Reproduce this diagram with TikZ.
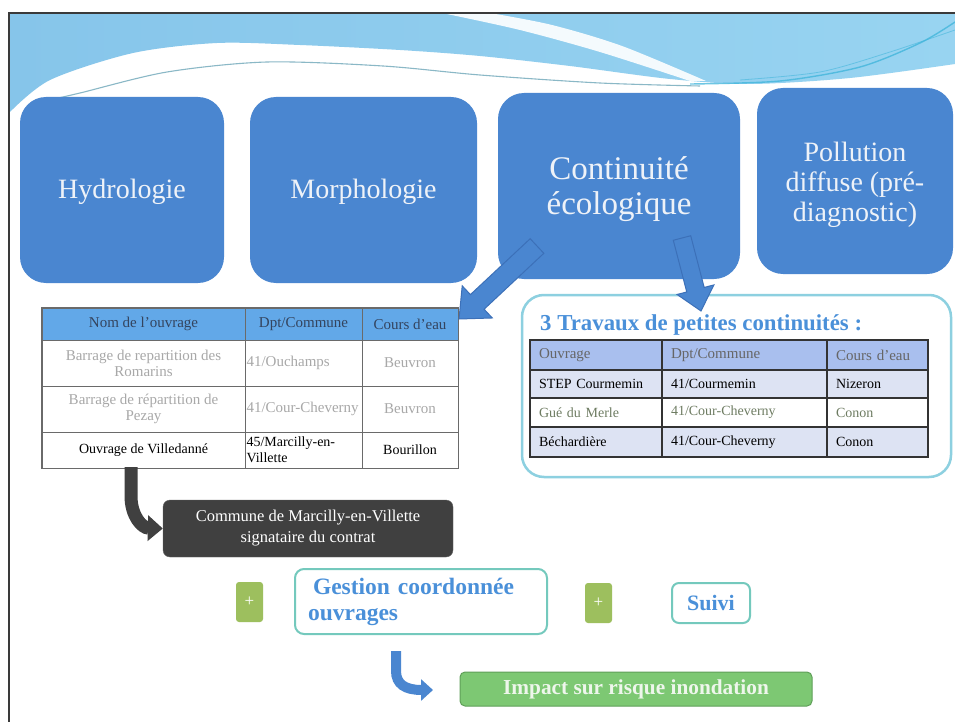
\documentclass[tikz,border=0pt]{standalone}
\usepackage{fontspec}
\setmainfont{Liberation Serif}
\usetikzlibrary{arrows.meta,calc}
\definecolor{boxblue}{HTML}{4A86D0}
\definecolor{boxedge}{HTML}{3C70B8}
\definecolor{boxtext}{HTML}{EEF2F8}
\definecolor{waveL}{HTML}{86C5EA}
\definecolor{waveR}{HTML}{98D4F1}
\definecolor{wavecyan}{HTML}{3DB4DA}
\definecolor{headblue}{HTML}{62A8E8}
\definecolor{headtext}{HTML}{34445E}
\definecolor{faded}{HTML}{A8A8A8}
\definecolor{tline}{HTML}{6A6A6A}
\definecolor{rhead}{HTML}{A9BFEE}
\definecolor{rrow}{HTML}{DDE3F3}
\definecolor{olivegray}{HTML}{6E7C62}
\definecolor{rboxline}{HTML}{8DD0E0}
\definecolor{titleblue}{HTML}{4A90D9}
\definecolor{darkbox}{HTML}{404040}
\definecolor{tealline}{HTML}{74C9BD}
\definecolor{plusgreen}{HTML}{9DBF5E}
\definecolor{impactfill}{HTML}{7DC873}
\definecolor{impactline}{HTML}{5F9F58}
\definecolor{impacttext}{HTML}{EEF6EC}
\definecolor{framecol}{HTML}{3A3A3A}
% block arrow: #1 start, #2 end, #3 shaft half width, #4 head half width, #5 head length
\newcommand{\blkarrow}[5]{%
  \coordinate (tmpC) at ($(#2)!#5!(#1)$);
  \filldraw[fill=boxblue, draw=boxedge, line width=1pt, line join=miter]
    ($(#1)!#3!90:(#2)$) -- ($(tmpC)!#3!90:(#2)$) -- ($(tmpC)!#4!90:(#2)$) -- (#2)
    -- ($(tmpC)!#4!-90:(#2)$) -- ($(tmpC)!#3!-90:(#2)$) -- ($(#1)!#3!-90:(#2)$) -- cycle;}
\begin{document}
\begin{tikzpicture}[x=1pt,y=-1pt,
  bigbox/.style={rectangle, rounded corners=26pt, fill=boxblue, inner sep=0pt},
  bigtext/.style={text=boxtext, align=center, inner sep=0pt, font=\fontsize{28}{30}\selectfont},
  cell/.style={rectangle, draw=tline, line width=0.8pt, inner sep=0pt, align=center},
  lhead/.style={cell, fill=headblue, text=headtext, font=\fontsize{15}{17}\selectfont},
  lrow/.style={cell, fill=white, font=\fontsize{14}{16}\selectfont},
  lfade/.style={lrow, text=faded, font=\fontsize{15}{16}\selectfont},
  rcell/.style={rectangle, draw=black!80, line width=1.2pt, inner sep=0pt, align=left, font=\fontsize{14}{16}\selectfont},
  plusbox/.style={rectangle, rounded corners=3pt, fill=plusgreen, text=white, minimum width=27pt, minimum height=40pt, inner sep=0pt, font=\fontsize{17}{17}\selectfont},
  tealbox/.style={rectangle, rounded corners=9pt, draw=tealline, line width=2pt, fill=white, inner sep=0pt, text=titleblue, font=\bfseries\fontsize{22}{26}\selectfont}
]
\useasboundingbox (0,0) rectangle (955,722);
\fill[white] (0,0) rectangle (955,722);

% ---- top wave ----
\shade[left color=waveL, right color=waveR]
  plot[smooth] coordinates {(9,113) (50,80) (133,53) (217,43) (300,45) (400,50) (480,56) (570,66) (670,79) (750,84) (850,78) (955,64)}
  -- (955,13) -- (9,13) -- cycle;
\fill[white, opacity=0.9]
  plot[smooth] coordinates {(442,13) (520,30) (600,52) (690,81)}
  -- plot[smooth] coordinates {(706,81) (622,46) (552,25) (490,13)} -- cycle;
\draw[wavecyan, line width=1.4pt, opacity=0.75]
  plot[smooth] coordinates {(690,84) (780,81) (860,67) (920,43) (955,22)};
\draw[wavecyan, line width=0.8pt, opacity=0.55]
  plot[smooth] coordinates {(740,80) (820,72) (890,52) (955,30)};
\draw[wavecyan!70!black, line width=1.1pt, opacity=0.55]
  plot[smooth] coordinates {(45,101) (80,93) (167,72) (267,62) (383,66) (480,75) (600,83) (700,86)};

% ---- frame ----
\draw[framecol, line width=1.5pt] (9,722) -- (9,13) -- (955,13);

% ---- top boxes ----
\node[bigbox, minimum width=204pt, minimum height=186pt] (hyd) at (122,190) {};
\node[bigtext] (hydt) at (122,192) {Hydrologie};
\node[bigbox, minimum width=227pt, minimum height=186pt] (mor) at (363.5,190) {};
\node[bigtext] (mort) at (363.5,192) {Morphologie};
\node[bigbox, minimum width=242pt, minimum height=186pt] (con) at (619,186) {};
\node[bigtext, font=\fontsize{33}{35}\selectfont] (cont) at (619,189) {Continuité\\écologique};
\node[bigbox, minimum width=196pt, minimum height=186pt] (pol) at (855,181) {};
\node[bigtext] (polt) at (855,185) {Pollution\\diffuse (pré-\\diagnostic)};

% ---- left table ----
\node[lhead, minimum width=203pt, minimum height=32pt] (lh1) at (143.5,324) {Nom de l'ouvrage};
\node[lhead, minimum width=117pt, minimum height=32pt] (lh2) at (303.5,324) {Dpt/Commune};
\node[lhead, minimum width=96pt, minimum height=32pt] (lh3) at (410,324) {Cours d'eau};
\node[lfade, minimum width=203pt, minimum height=46pt] (la1) at (143.5,363) {Barrage de repartition des\\Romarins};
\node[lfade, minimum width=117pt, minimum height=46pt, text width=114pt, align=left] (la2) at (303.5,363) {41/Ouchamps};
\node[lfade, minimum width=96pt, minimum height=46pt] (la3) at (410,363) {Beuvron};
\node[lfade, minimum width=203pt, minimum height=46pt] (lb1) at (143.5,409) {Barrage de répartition de\\Pezay};
\node[lfade, minimum width=117pt, minimum height=46pt, text width=114pt, align=left] (lb2) at (303.5,409) {41/Cour-Cheverny};
\node[lfade, minimum width=96pt, minimum height=46pt] (lb3) at (410,409) {Beuvron};
\node[lrow, minimum width=203pt, minimum height=36pt] (lc1) at (143.5,450) {Ouvrage de Villedanné};
\node[lrow, minimum width=117pt, minimum height=36pt, text width=114pt, align=left] (lc2) at (303.5,450) {45/Marcilly-en-\\Villette};
\node[lrow, minimum width=96pt, minimum height=36pt] (lc3) at (410,450) {Bourillon};
\draw[tline, line width=1.2pt] (lh1.north west) rectangle (lc3.south east);

% ---- right box ----
\node[rectangle, rounded corners=22pt, draw=rboxline, line width=2.5pt, fill=white, minimum width=429pt, minimum height=182pt] (rbox) at (736.5,386) {};
\node[anchor=west, inner sep=0pt, text=titleblue, font=\bfseries\fontsize{22.8}{24}\selectfont] (rtitle) at (540,325) {3 Travaux de petites continuités :};
\node[rcell, fill=rhead, text=black!60, font=\fontsize{15}{17}\selectfont, minimum width=132pt, minimum height=30pt, text width=114pt] (rh1) at (596,355) {Ouvrage};
\node[rcell, fill=rhead, text=black!60, font=\fontsize{15}{17}\selectfont, minimum width=165pt, minimum height=30pt, text width=147pt] (rh2) at (744.5,355) {Dpt/Commune};
\node[rcell, fill=rhead, text=black!60, font=\fontsize{15}{17}\selectfont, minimum width=101pt, minimum height=30pt, text width=83pt] (rh3) at (877.5,355) {Cours d'eau};
\node[rcell, fill=rrow, minimum width=132pt, minimum height=28pt, text width=114pt] (ra1) at (596,384) {STEP Courmemin};
\node[rcell, fill=rrow, minimum width=165pt, minimum height=28pt, text width=147pt] (ra2) at (744.5,384) {41/Courmemin};
\node[rcell, fill=rrow, minimum width=101pt, minimum height=28pt, text width=83pt] (ra3) at (877.5,384) {Nizeron};
\node[rcell, fill=white, text=olivegray, minimum width=132pt, minimum height=29pt, text width=114pt] (rb1) at (596,412.5) {Gué du Merle};
\node[rcell, fill=white, text=olivegray, minimum width=165pt, minimum height=29pt, text width=147pt] (rb2) at (744.5,412.5) {41/Cour-Cheverny};
\node[rcell, fill=white, text=olivegray, minimum width=101pt, minimum height=29pt, text width=83pt] (rb3) at (877.5,412.5) {Conon};
\node[rcell, fill=rrow, minimum width=132pt, minimum height=30pt, text width=114pt] (rc1) at (596,442) {Béchardière};
\node[rcell, fill=rrow, minimum width=165pt, minimum height=30pt, text width=147pt] (rc2) at (744.5,442) {41/Cour-Cheverny};
\node[rcell, fill=rrow, minimum width=101pt, minimum height=30pt, text width=83pt] (rc3) at (877.5,442) {Conon};

% ---- arrows from Continuité ----
\coordinate (a1s) at (537,246);
\coordinate (a1e) at (459,319);
\blkarrow{a1s}{a1e}{10pt}{22pt}{25pt}
\coordinate (a2s) at (682,238);
\coordinate (a2e) at (701,311);
\blkarrow{a2s}{a2e}{9pt}{19pt}{22pt}

% ---- signataire ----
\node[rectangle, rounded corners=7pt, fill=darkbox, draw=black!60, text=white, align=center, inner sep=0pt, minimum width=290pt, minimum height=57pt, font=\fontsize{16.5}{21}\selectfont] (sig) at (308,528.5) {Commune de Marcilly-en-Villette\\signataire du contrat};
\coordinate (c1s) at (131,467);
\draw[darkbox, line width=13pt, -{Triangle[width=25pt,length=15pt]}] (c1s) -- (131,496) .. controls (131,516) and (142,528) .. (sig.west);

% ---- bottom row ----
\node[plusbox] (p1) at (249.5,602) {+};
\node[tealbox, minimum width=252pt, minimum height=65pt, text width=226pt, align=left, font=\bfseries\fontsize{23.5}{26}\selectfont] (gest) at (421,601.5) {\hspace{5pt}Gestion coordonnée\\ouvrages};
\node[plusbox] (p2) at (598.5,603) {+};
\node[tealbox, rounded corners=7pt, minimum width=78pt, minimum height=40pt] (suivi) at (711,603) {Suivi};
\node[rectangle, rounded corners=5pt, fill=impactfill, draw=impactline, line width=1pt, text=impacttext, inner sep=0pt, minimum width=352pt, minimum height=34pt, font=\bfseries\fontsize{21.3}{22}\selectfont] (impact) at (636,689) {Impact sur risque inondation};
\coordinate (d1s) at (396,651);
\coordinate (d1e) at (433,690);
\draw[boxblue, line width=10pt, -{Triangle[width=21pt,length=12pt]}] (d1s) -- (396,671) .. controls (396,684) and (405,690) .. (d1e);
\end{tikzpicture}
\end{document}
